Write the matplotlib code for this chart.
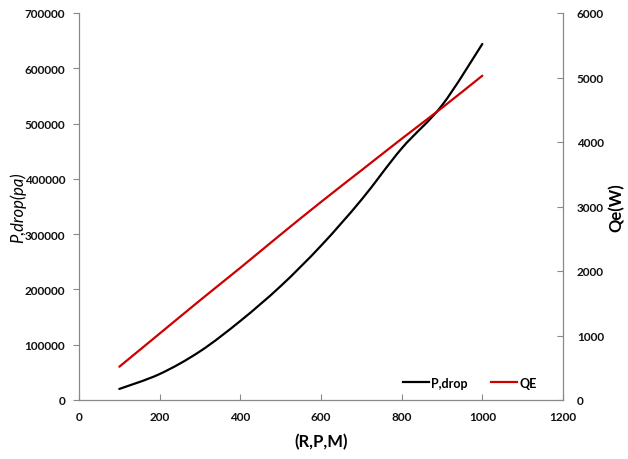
import matplotlib
matplotlib.use("Agg")
import matplotlib.pyplot as plt
from matplotlib.ticker import FixedLocator
from matplotlib.path import Path
from matplotlib.patches import PathPatch
from matplotlib.lines import Line2D

plt.rcParams['font.family'] = ['Lato', 'DejaVu Sans']

rpm = [100, 200, 300, 400, 500, 600, 700, 800, 900, 1000]
p_drop = [20000, 47000, 88000, 143000, 206000, 279000, 362000, 455000, 533000, 644000]
qe = [516, 1030, 1545, 2050, 2565, 3070, 3560, 4050, 4530, 5028]

x_ticks = [0, 200, 400, 600, 800, 1000, 1200]
left_ticks = [0, 100000, 200000, 300000, 400000, 500000, 600000, 700000]
right_ticks = [0, 1000, 2000, 3000, 4000, 5000, 6000]


def smooth_path(xs, ys):
    """Excel-style smoothed line (Catmull-Rom as cubic Bezier segments)."""
    pts = list(zip(xs, ys))
    n = len(pts)
    verts = [pts[0]]
    codes = [Path.MOVETO]
    for i in range(n - 1):
        p0 = pts[i - 1] if i > 0 else pts[i]
        p1 = pts[i]
        p2 = pts[i + 1]
        p3 = pts[i + 2] if i + 2 < n else pts[i + 1]
        c1 = (p1[0] + (p2[0] - p0[0]) / 6, p1[1] + (p2[1] - p0[1]) / 6)
        c2 = (p2[0] - (p3[0] - p1[0]) / 6, p2[1] - (p3[1] - p1[1]) / 6)
        verts += [c1, c2, p2]
        codes += [Path.CURVE4] * 3
    return Path(verts, codes)


fig = plt.figure(figsize=(6.28, 4.6), dpi=100)
ax = fig.add_axes([79/628, 1-401/460, (563-79)/628, (401-14)/460])
ax2 = ax.twinx()

grey = '#898989'
black_c = 'black'
red_c = '#CC0000'
ax.add_patch(PathPatch(smooth_path(rpm, p_drop), facecolor='none',
                       edgecolor=black_c, lw=1.6, capstyle='round'))
ax2.add_patch(PathPatch(smooth_path(rpm, qe), facecolor='none',
                        edgecolor=red_c, lw=1.6, capstyle='round'))
l1 = Line2D([], [], color=black_c, lw=1.6, label='P,drop')
l2 = Line2D([], [], color=red_c, lw=1.6, label='QE')

ax.set_xlim(0, 1200)
ax.set_ylim(0, 700000)
ax2.set_ylim(0, 6000)
ax.xaxis.set_major_locator(FixedLocator(x_ticks))
ax.yaxis.set_major_locator(FixedLocator(left_ticks))
ax2.yaxis.set_major_locator(FixedLocator(right_ticks))
ax.set_xticklabels([str(v) for v in x_ticks])
ax.set_yticklabels([str(v) for v in left_ticks])
ax2.set_yticklabels([str(v) for v in right_ticks])

for a in (ax, ax2):
    a.spines['top'].set_visible(False)
    for s in a.spines.values():
        s.set_color(grey)
        s.set_linewidth(0.9)
ax.spines['right'].set_visible(False)
ax2.spines['left'].set_visible(False)
ax2.spines['bottom'].set_visible(False)

ax.tick_params(axis='x', direction='in', length=4, color=grey, pad=8,
               labelsize=8.5)
ax.tick_params(axis='y', direction='out', length=4, color=grey, pad=6,
               labelsize=8.5)
ax2.tick_params(axis='y', direction='in', length=4, color=grey, pad=10,
                labelsize=8.5)
for lab in ax.get_xticklabels() + ax.get_yticklabels() + ax2.get_yticklabels():
    lab.set_fontweight('bold')
    lab.set_color('#111111')

ax.set_xlabel('(R,P,M)', fontsize=12, fontweight='bold', labelpad=8)
ax.set_ylabel('P,drop(pa)', fontsize=12, style='italic', labelpad=-1)
ax2.set_ylabel('Qe(W)', fontsize=12, fontweight='bold', labelpad=3)

leg = ax.legend(handles=[l1, l2], loc='lower right', ncol=2, frameon=False,
                bbox_to_anchor=(0.969, 0.0), fontsize=9, handlelength=2.1,
                columnspacing=1.8, handletextpad=0.2)
for t in leg.get_texts():
    t.set_fontweight('bold')

fig.savefig('out.png', dpi=100)
